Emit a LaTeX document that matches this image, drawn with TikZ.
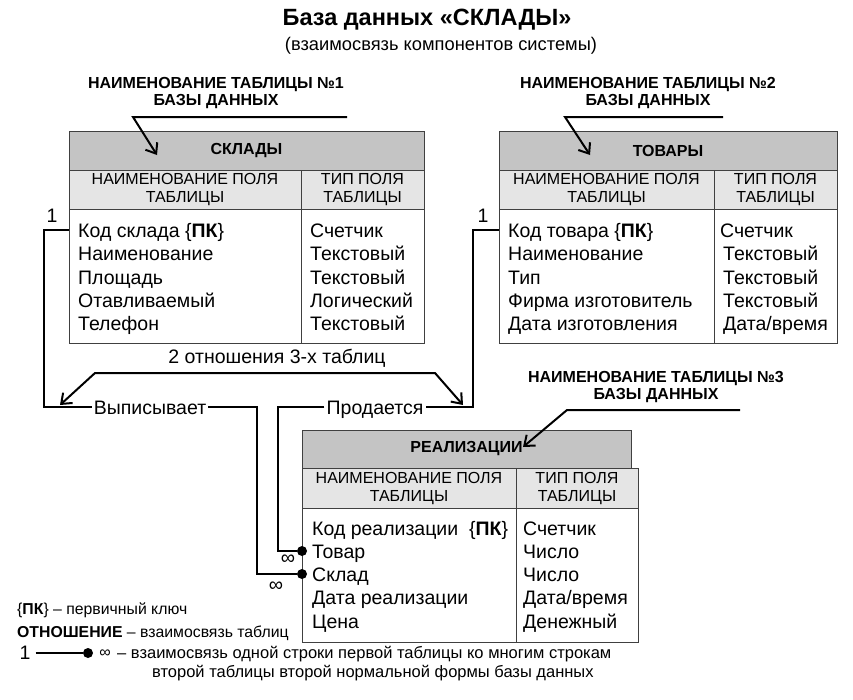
\documentclass[tikz,border=0pt]{standalone}
\usepackage{fontspec}
\setmainfont{Liberation Sans}
\usetikzlibrary{arrows.meta}
\newcommand\fbody{\fontsize{19.5}{23.3}\selectfont}
\newcommand\fsubh{\fontsize{16}{18}\selectfont}
\newcommand\fhdr{\fontsize{16}{18}\selectfont\bfseries}
\newcommand\flab{\fontsize{16}{17}\selectfont\bfseries}
\newcommand\fleg{\fontsize{15.8}{20}\selectfont}
\newcommand\flegb{\fontsize{16.5}{20}\selectfont}
\begin{document}
\begin{tikzpicture}[x=1pt,y=-1pt,
  cell/.style={draw=black!75, line width=0.8pt, anchor=north west, inner sep=0pt, outer sep=0pt},
  hdr/.style={cell, fill=black!23, font=\fhdr},
  subh/.style={cell, fill=black!10, font=\fsubh, align=center},
  bodyc/.style={cell, fill=white},
  row/.style={anchor=west, inner sep=0pt, font=\fbody, text height=14pt, text depth=0pt},
  lab/.style={font=\flab, align=center, inner sep=0pt},
  conn/.style={line width=2pt, line join=miter},
  pointer/.style={line width=2pt, -{Straight Barb[length=9pt,width=14pt,line width=2pt]}},
  rel/.style={anchor=center, inner xsep=2pt, inner ysep=0pt, font=\fbody, text height=14pt, text depth=0pt},
  dot/.style={circle, fill=black, inner sep=0pt, minimum size=10pt},
  inf/.style={font=\fontsize{20}{20}\selectfont, inner sep=0pt},
  leg/.style={anchor=west, inner sep=0pt, font=\fleg, text height=11pt, text depth=0pt},
  legb/.style={anchor=west, inner sep=0pt, font=\flegb, text height=11.5pt, text depth=0pt}
]
\useasboundingbox (0,0) rectangle (853,699);

% titles
\node[font=\fontsize{23.5}{26}\selectfont\bfseries, inner sep=0pt] (title) at (427,20) {База данных «СКЛАДЫ»};
\node[font=\fontsize{18.3}{20}\selectfont, inner sep=0pt] (subtitle) at (441,46) {(взаимосвязь компонентов системы)};

% ---------- Table 1
\node[hdr, minimum width=355pt, minimum height=39pt] (t1h) at (69,131) {СКЛАДЫ};
\node[subh, minimum width=232pt, minimum height=39pt] (t1sl) at (69,170) {НАИМЕНОВАНИЕ ПОЛЯ\\ТАБЛИЦЫ};
\node[subh, minimum width=123pt, minimum height=39pt] (t1sr) at (301,170) {ТИП ПОЛЯ\\ТАБЛИЦЫ};
\node[bodyc, minimum width=232pt, minimum height=134pt] (t1bl) at (69,209) {};
\node[bodyc, minimum width=123pt, minimum height=134pt] (t1br) at (301,209) {};
\node[row] (k1) at (78,230) {Код склада \{\textbf{ПК}\}};
\node[row] at (78,253) {Наименование};
\node[row] at (78,277) {Площадь};
\node[row] at (78,300) {Отавливаемый};
\node[row] at (78,323) {Телефон};
\node[row] at (310,230) {Счетчик};
\node[row] at (310,253) {Текстовый};
\node[row] at (310,277) {Текстовый};
\node[row] at (310,300) {Логический};
\node[row] at (310,323) {Текстовый};

\node[lab] (lab1) at (216,93) {НАИМЕНОВАНИЕ ТАБЛИЦЫ №1\\БАЗЫ ДАННЫХ};
\coordinate (p1a) at (347,117);
\coordinate (p1b) at (133,117);
\coordinate (p1c) at (157,155);
\draw[pointer] (p1a) -- (p1b) -- (p1c);

% ---------- Table 2
\node[hdr, minimum width=338pt, minimum height=39pt] (t2h) at (499,131) {ТОВАРЫ};
\node[subh, minimum width=215pt, minimum height=39pt] (t2sl) at (499,170) {НАИМЕНОВАНИЕ ПОЛЯ\\ТАБЛИЦЫ};
\node[subh, minimum width=123pt, minimum height=39pt] (t2sr) at (714,170) {ТИП ПОЛЯ\\ТАБЛИЦЫ};
\node[bodyc, minimum width=215pt, minimum height=134pt] (t2bl) at (499,209) {};
\node[bodyc, minimum width=123pt, minimum height=134pt] (t2br) at (714,209) {};
\node[row] (k2) at (508,230) {Код товара \{\textbf{ПК}\}};
\node[row] at (508,253) {Наименование};
\node[row] at (508,277) {Тип};
\node[row] at (508,300) {Фирма изготовитель};
\node[row] at (508,323) {Дата изготовления};
\node[row] at (720,230) {Счетчик};
\node[row] at (723,253) {Текстовый};
\node[row] at (723,277) {Текстовый};
\node[row] at (723,300) {Текстовый};
\node[row] at (723,323) {Дата/время};

\node[lab] (lab2) at (648,93) {НАИМЕНОВАНИЕ ТАБЛИЦЫ №2\\БАЗЫ ДАННЫХ};
\coordinate (p2a) at (723,117);
\coordinate (p2b) at (565,117);
\coordinate (p2c) at (590,155);
\draw[pointer] (p2a) -- (p2b) -- (p2c);

% ---------- Table 3
\node[hdr, minimum width=329pt, minimum height=38pt] (t3h) at (302,430) {РЕАЛИЗАЦИИ};
\node[subh, minimum width=214pt, minimum height=40pt] (t3sl) at (302,468) {НАИМЕНОВАНИЕ ПОЛЯ\\ТАБЛИЦЫ};
\node[subh, minimum width=122pt, minimum height=40pt] (t3sr) at (516,468) {ТИП ПОЛЯ\\ТАБЛИЦЫ};
\node[bodyc, minimum width=214pt, minimum height=134pt] (t3bl) at (302,508) {};
\node[bodyc, minimum width=122pt, minimum height=134pt] (t3br) at (516,508) {};
\node[row] at (312,528) {Код реализации \ \{\textbf{ПК}\}};
\node[row] (tov) at (312,551) {Товар};
\node[row] (skl) at (312,574) {Склад};
\node[row] at (312,597) {Дата реализации};
\node[row] at (312,621) {Цена};
\node[row] at (523,528) {Счетчик};
\node[row] at (523,551) {Число};
\node[row] at (523,574) {Число};
\node[row] at (523,597) {Дата/время};
\node[row] at (523,621) {Денежный};

\node[lab] (lab3) at (656,387) {НАИМЕНОВАНИЕ ТАБЛИЦЫ №3\\БАЗЫ ДАННЫХ};
\coordinate (p3a) at (740,410);
\coordinate (p3b) at (567,410);
\coordinate (p3c) at (523,447);
\draw[pointer] (p3a) -- (p3b) -- (p3c);

% ---------- relations
\node[font=\fbody, inner sep=0pt] (relt) at (277,358) {2 отношения 3-х таблиц};
\coordinate (ra) at (60,405);
\coordinate (rb) at (95,373);
\coordinate (rc) at (435,373);
\coordinate (rd) at (463,405);
\draw[line width=2pt, {Straight Barb[length=9pt,width=14pt,line width=2pt]}-{Straight Barb[length=9pt,width=14pt,line width=2pt]}] (ra) -- (rb) -- (rc) -- (rd);

\node[rel] (vyp) at (150,407) {Выписывает};
\node[rel] (prod) at (375,407) {Продается};
\node[dot] (dT) at (302,551) {};
\node[dot] (dS) at (302,574) {};
\coordinate (j1) at (44,407);
\coordinate (j2) at (257,574);
\coordinate (j3) at (473,407);
\coordinate (j4) at (278,551);
\draw[conn] (k1.west -| t1bl.west) -| (j1) -- (vyp.west);
\draw[conn] (vyp.east) -| (j2) -- (dS);
\draw[conn] (k2.west -| t2bl.west) -| (j3) -- (prod.east);
\draw[conn] (prod.west) -| (j4) -- (dT);
\node[font=\fbody, inner sep=0pt] (one1) at (52,216) {1};
\node[font=\fbody, inner sep=0pt] (one2) at (483,216) {1};
\node[inf] (inf1) at (288,560) {∞};
\node[inf] (inf2) at (276,587) {∞};

% ---------- legend
\node[leg] (pk) at (17,609) {\{\textbf{ПК}\} – первичный ключ};
\node[leg] (otn) at (17,632) {\textbf{ОТНОШЕНИЕ} – взаимосвязь таблиц};
\node[font=\fbody, inner sep=0pt] (l1) at (25,653) {1};
\node[dot] (ld) at (88,653) {};
\draw[line width=2pt] (l1.east) ++(5pt,0) -- (ld);
\node[font=\fontsize{16}{16}\selectfont, inner sep=0pt] (linf) at (105,654) {∞};
\node[legb] (lt1) at (117,653) {– взаимосвязь одной строки первой таблицы ко многим строкам};
\node[legb] (lt2) at (152,672) {второй таблицы второй нормальной формы базы данных};
\end{tikzpicture}
\end{document}
